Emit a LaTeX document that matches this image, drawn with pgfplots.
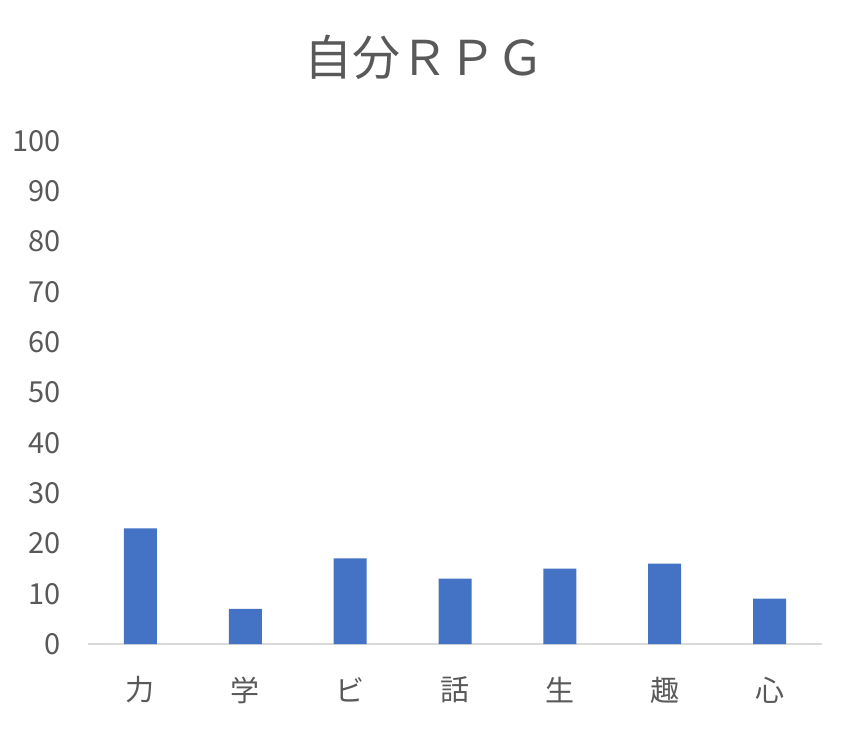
\documentclass[border=0pt]{standalone}
\usepackage{pgfplots}
\pgfplotsset{compat=1.18}
\usepackage{fontspec}
\setmainfont{Noto Sans CJK JP}
\definecolor{barblue}{HTML}{4472C4}
\definecolor{txtgray}{HTML}{595959}
\definecolor{axgray}{HTML}{D9D9D9}
\begin{document}
\begin{tikzpicture}
\path[use as bounding box] (-44pt,-44.5pt) rectangle (386pt,322pt);
\begin{axis}[
    at={(0,0)}, anchor=south west,
    scale only axis,
    width=367pt, height=251.5pt,
    xmin=-0.5, xmax=6.5,
    ymin=0, ymax=100,
    ytick={0,10,...,100},
    xtick=data,
    xticklabels={力,学,ビ,話,生,趣,心},
    major tick length=0pt,
    axis y line*=left,
    axis x line*=bottom,
    y axis line style={draw=none},
    x axis line style={axgray, line width=0.75pt, -},
    every tick label/.style={font=\fontsize{14.5}{17}\selectfont, text=txtgray},
    /pgf/number format/assume math mode=true,
    yticklabel style={anchor=east, xshift=-10pt},
    ytick style={draw=none},
    xtick style={draw=none},
    xticklabel style={anchor=center, yshift=-23pt},
    clip=false,
]
\addplot[ybar, bar width=16.5pt, fill=barblue, draw=none]
    coordinates {(0,23)(1,7)(2,17)(3,13)(4,15)(5,16)(6,9)};
\end{axis}
\node[text=txtgray, font=\fontsize{24}{29}\selectfont] at (168pt,293.5pt) {自分ＲＰＧ};
\end{tikzpicture}
\end{document}
